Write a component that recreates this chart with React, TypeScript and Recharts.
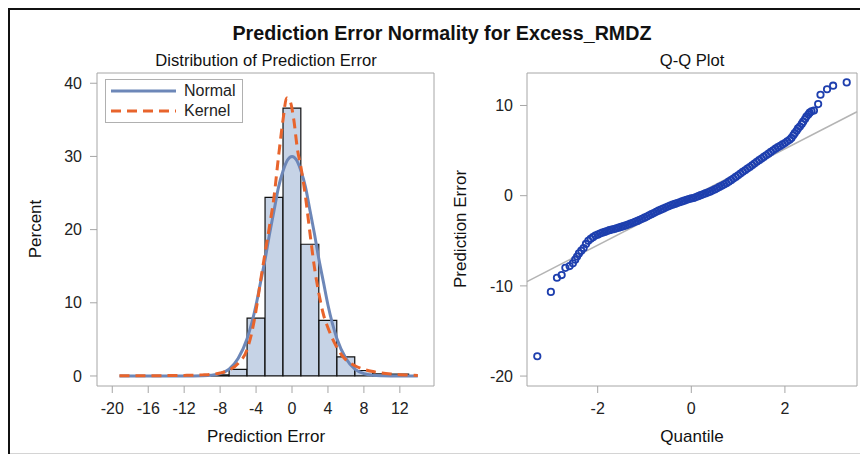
import React from 'react';
import { ComposedChart, Bar, Line, Scatter, XAxis, YAxis, CartesianGrid, Legend, ReferenceLine } from 'recharts';

// histogram: bin centres (width 2) and percent of observations
const binCenters = [-8, -6, -4, -2, 0, 2, 4, 6, 8, 10, 12];
const binPercents = [0.15, 0.9, 7.9, 24.4, 36.6, 18.0, 7.6, 2.6, 0.75, 0.3, 0.25];

// fitted normal density curve
const normalX = [-19.2, -14, -11, -10, -9, -8, -7, -6, -5, -4, -3.5, -3, -2.5, -2, -1.5, -1, -0.5, 0, 0.5, 1, 1.5, 2, 2.5, 3, 3.5, 4, 5, 6, 7, 8, 9, 10, 11, 14];
const normalY = [0, 0, 0.01, 0.03, 0.1, 0.33, 0.94, 2.4, 5.1, 9.7, 12.8, 15.9, 19.4, 22.6, 25.8, 28, 29.5, 30, 29.5, 28, 25.8, 22.6, 19.4, 15.9, 12.8, 9.7, 5.1, 2.4, 0.94, 0.33, 0.1, 0.03, 0.01, 0];

// kernel density curve
const kernelX = [-19.2, -15, -12, -10, -9, -8, -7, -6, -5, -4.5, -4, -3.5, -3, -2.5, -2, -1.5, -1, -0.6, -0.2, 0.2, 0.6, 1, 1.5, 2, 2.5, 3, 3.5, 4, 4.5, 5, 5.5, 6, 7, 8, 9, 10, 11, 12, 13, 14];
const kernelY = [0.03, 0.04, 0.08, 0.15, 0.22, 0.4, 0.8, 1.7, 3.6, 5.8, 9, 13, 16.8, 20.5, 24.5, 30, 35, 38, 37.5, 35, 31, 28.5, 24.5, 19.5, 14.8, 11.2, 8.4, 6.6, 5.1, 3.9, 2.9, 2.2, 1.4, 0.9, 0.6, 0.4, 0.27, 0.18, 0.12, 0.05];

const errorTicks = [-20, -16, -12, -8, -4, 0, 4, 8, 12];
const percentTicks = [0, 10, 20, 30, 40];
const legendOrder = ['Normal', 'Kernel'];

// Q-Q plot: normal quantile vs prediction error
const qqQuantiles = [
  -3.29, -3.0, -2.87, -2.77, -2.69, -2.6, -2.53, -2.48, -2.44,
  -2.4, -2.35, -2.3, -2.25, -2.2, -2.15, -2.1, -2.05, -2.0, -1.95, -1.9, -1.85, -1.8, -1.75, -1.7, -1.65, -1.6, -1.55, -1.5, -1.45,
  -1.4, -1.35, -1.3, -1.25, -1.2, -1.15, -1.1, -1.05, -1.0, -0.95, -0.9, -0.85, -0.8, -0.75, -0.7, -0.65, -0.6, -0.55, -0.5, -0.45,
  -0.4, -0.35, -0.3, -0.25, -0.2, -0.15, -0.1, -0.05, 0, 0.05, 0.1, 0.15, 0.2, 0.25, 0.3, 0.35, 0.4, 0.45, 0.5, 0.55,
  0.6, 0.65, 0.7, 0.75, 0.8, 0.85, 0.9, 0.95, 1.0, 1.05, 1.1, 1.15, 1.2, 1.25, 1.3, 1.35, 1.4, 1.45, 1.5, 1.55,
  1.6, 1.65, 1.7, 1.75, 1.8, 1.85, 1.9, 1.95, 2.0, 2.05, 2.1,
  2.14, 2.18, 2.21, 2.25, 2.28, 2.32, 2.36, 2.39, 2.43, 2.46, 2.5, 2.53, 2.57, 2.62, 2.71, 2.76, 2.9, 3.03, 3.32,
];
const qqErrors = [
  -17.8, -10.67, -9.1, -8.8, -8.0, -7.8, -7.5, -7.1, -6.75,
  -6.4, -6.1, -5.8, -5.35, -5.0, -4.78, -4.6, -4.42, -4.32, -4.2, -4.1, -4.02, -3.92, -3.83, -3.76, -3.7, -3.62, -3.55, -3.47, -3.38,
  -3.3, -3.2, -3.1, -3.0, -2.9, -2.8, -2.68, -2.56, -2.44, -2.32, -2.18, -2.05, -1.92, -1.79, -1.66, -1.55, -1.44, -1.32, -1.2, -1.1,
  -1.0, -0.91, -0.82, -0.73, -0.64, -0.55, -0.46, -0.38, -0.31, -0.26, -0.16, -0.06, 0.05, 0.15, 0.25, 0.34, 0.44, 0.56, 0.69, 0.82,
  0.97, 1.1, 1.24, 1.38, 1.55, 1.72, 1.9, 2.08, 2.26, 2.45, 2.64, 2.82, 3.0, 3.18, 3.37, 3.56, 3.76, 3.94, 4.12, 4.3,
  4.48, 4.66, 4.85, 5.03, 5.21, 5.38, 5.52, 5.68, 5.84, 6.02, 6.19,
  6.4, 6.7, 6.93, 7.2, 7.45, 7.67, 7.95, 8.2, 8.5, 8.78, 9.0, 9.2, 9.35, 9.44, 10.15, 11.19, 11.8, 12.19, 12.56,
];
const quantileTicks = [-2, 0, 2];
const qqErrorTicks = [-20, -10, 0, 10];

// reference (fitted normal) line, at the ends of the quantile axis
const fitQuantiles = [-3.51, 3.54];
const fitErrors = [-9.52, 9.3];

const histData = binCenters.map((x, i) => ({ x, pct: binPercents[i] }));
const normalData = normalX.map((x, i) => ({ x, y: normalY[i] }));
const kernelData = kernelX.map((x, i) => ({ x, y: kernelY[i] }));
const qqData = qqQuantiles.map((q, i) => ({ q, e: qqErrors[i] }));

const FONT = '"Liberation Sans", Arial, sans-serif';
const AXIS = '#a6a6a6';
const tickStyle = { fontSize: 16, fill: '#222', fontFamily: FONT };

const frameTop = ({ offset }: any) => [offset.top];
const frameRight = ({ offset }: any) => [offset.left + offset.width];

function LegendBox({ payload }: any) {
  const items = legendOrder
    .map((name) => (payload || []).find((p: any) => p.value === name))
    .filter(Boolean);
  return (
    <div style={{ border: '1px solid #b0b0b0', background: '#fff', width: 136, height: 40, padding: '1px 0', fontFamily: FONT, fontSize: 16, color: '#222' }}>
      {items.map((entry: any) => (
        <div key={entry.value} style={{ display: 'flex', alignItems: 'center', height: 20 }}>
          <svg width={72} height={20}>
            <line x1={5} x2={70} y1={10} y2={10} stroke={entry.color} strokeWidth={3}
              strokeDasharray={entry.payload && entry.payload.strokeDasharray} />
          </svg>
          <span style={{ marginLeft: 6 }}>{entry.value}</span>
        </div>
      ))}
    </div>
  );
}

const Txt = ({ x, y, size, bold, rotate, children }: any) => (
  <div style={{
    position: 'absolute', left: x, top: y, whiteSpace: 'nowrap', fontSize: size, fontWeight: bold ? 700 : 400,
    color: '#111', transform: `translate(-50%, -50%)${rotate ? ' rotate(-90deg)' : ''}`, lineHeight: 1,
  }}>{children}</div>
);

export default function App() {
  return (
    <div style={{ position: 'fixed', left: 0, top: 0, width: 860, height: 457, overflow: 'hidden', background: '#fff', fontFamily: FONT }}>
      <div style={{ position: 'absolute', left: 8, top: 8, width: 2, height: 446, background: '#111' }} />
      <div style={{ position: 'absolute', left: 8, top: 8, width: 852, height: 2, background: '#111' }} />
      <div style={{ position: 'absolute', left: 10, top: 453, width: 850, height: 1, background: '#d4d4d4' }} />

      <Txt x={442} y={34} size={19.7} bold>Prediction Error Normality for Excess_RMDZ</Txt>
      <Txt x={266} y={61} size={16.6}>Distribution of Prediction Error</Txt>
      <Txt x={692} y={61} size={16.6}>Q-Q Plot</Txt>
      <Txt x={35} y={229} size={17} rotate>Percent</Txt>
      <Txt x={460} y={229} size={17} rotate>Prediction Error</Txt>
      <Txt x={266} y={436} size={17}>Prediction Error</Txt>
      <Txt x={692} y={436} size={17}>Quantile</Txt>

      <div style={{ position: 'absolute', left: 8, top: 8 }}>
        <ComposedChart width={440} height={449} data={histData} margin={{ top: 65, right: 14, bottom: 41, left: 34 }}>
          <CartesianGrid stroke={AXIS} horizontalCoordinatesGenerator={frameTop} verticalCoordinatesGenerator={frameRight} />
          <XAxis xAxisId="hist" type="number" dataKey="x" domain={[-21.7, 15.8]} allowDataOverflow ticks={errorTicks}
            height={30} stroke={AXIS} tickSize={7} tickMargin={10} tick={tickStyle} interval={0} />
          <XAxis xAxisId="curve" type="number" dataKey="x" domain={[-21.7, 15.8]} allowDataOverflow hide height={0} />
          <YAxis type="number" domain={[-1.37, 41.4]} allowDataOverflow ticks={percentTicks} width={55}
            stroke={AXIS} tickSize={7} tickMargin={8} tick={tickStyle} interval={0} />
          <Bar xAxisId="hist" dataKey="pct" barSize={17.8} fill="#c6d3e6" stroke="#111" strokeWidth={1.2}
            isAnimationActive={false} legendType="none" />
          <Line xAxisId="curve" data={normalData} dataKey="y" name="Normal" type="monotone" stroke="#6d87b8"
            strokeWidth={3} dot={false} activeDot={false} isAnimationActive={false} />
          <Line xAxisId="curve" data={kernelData} dataKey="y" name="Kernel" type="monotone" stroke="#e8642c"
            strokeWidth={3} strokeDasharray="10 6" dot={false} activeDot={false} isAnimationActive={false} />
          <Legend layout="horizontal" verticalAlign="middle" align="center" content={<LegendBox />}
            wrapperStyle={{ left: 97, top: 71, width: 138, height: 42 }} />
        </ComposedChart>
      </div>

      <div style={{ position: 'absolute', left: 470, top: 8 }}>
        <ComposedChart width={390} height={449} margin={{ top: 65, right: 3, bottom: 41, left: 12 }}>
          <CartesianGrid stroke={AXIS} horizontalCoordinatesGenerator={frameTop} verticalCoordinatesGenerator={frameRight} />
          <XAxis type="number" dataKey="q" domain={[-3.51, 3.54]} allowDataOverflow ticks={quantileTicks}
            height={30} stroke={AXIS} tickSize={7} tickMargin={10} tick={tickStyle} interval={0} />
          <YAxis type="number" dataKey="e" domain={[-21.1, 13.6]} allowDataOverflow ticks={qqErrorTicks} width={45}
            stroke={AXIS} tickSize={7} tickMargin={7} tick={tickStyle} interval={0} />
          <ReferenceLine segment={[{ x: fitQuantiles[0], y: fitErrors[0] }, { x: fitQuantiles[1], y: fitErrors[1] }]}
            stroke="#b4b4b4" strokeWidth={1.5} />
          <Scatter data={qqData} dataKey="e" isAnimationActive={false}
            shape={(p: any) => <circle cx={p.cx} cy={p.cy} r={3.2} fill="none" stroke="#1e3fae" strokeWidth={1.8} />} />
        </ComposedChart>
      </div>
    </div>
  );
}
